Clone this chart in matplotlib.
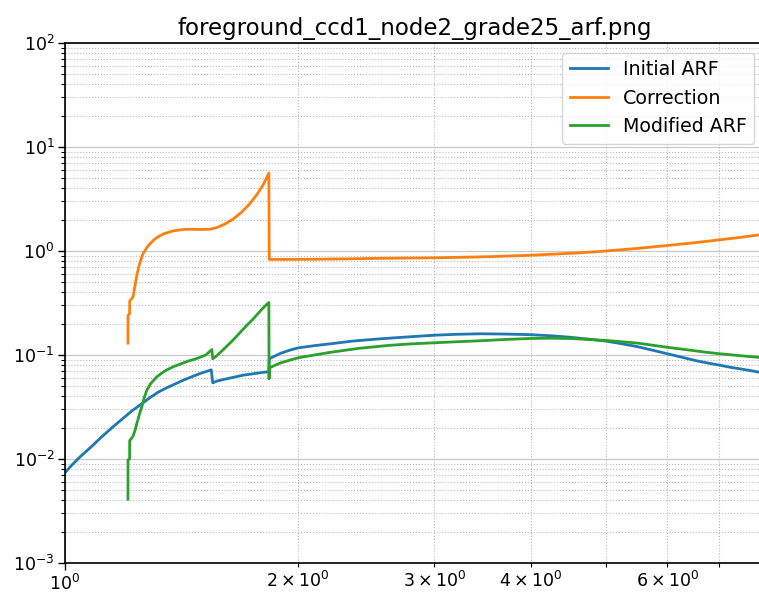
import numpy as np
import matplotlib
matplotlib.use("Agg")
import matplotlib.pyplot as plt

# energies (keV) and ARF values
energy_initial = [1.00, 1.02, 1.046, 1.08, 1.11, 1.15, 1.18, 1.22, 1.25, 1.288,
                  1.32, 1.35, 1.39, 1.42, 1.46, 1.50, 1.545, 1.552, 1.57, 1.60,
                  1.65, 1.70, 1.75, 1.80, 1.834, 1.836, 1.90, 1.95, 2.0, 2.1,
                  2.2, 2.35, 2.55, 2.8, 3.0, 3.2, 3.44, 3.7, 3.98, 4.25,
                  4.5, 4.75, 5.0, 5.25, 5.5, 5.93, 6.2, 6.5, 6.75, 7.0,
                  7.25, 7.5, 7.75, 8.0]
arf_initial = [0.0074, 0.0087, 0.0105, 0.013, 0.0158, 0.020, 0.0235, 0.029, 0.033, 0.039,
               0.044, 0.048, 0.053, 0.057, 0.062, 0.067, 0.072, 0.054, 0.056, 0.058,
               0.061, 0.064, 0.066, 0.068, 0.069, 0.092, 0.104, 0.111, 0.117, 0.123,
               0.128, 0.136, 0.143, 0.150, 0.155, 0.158, 0.160, 0.159, 0.157, 0.153,
               0.148, 0.142, 0.136, 0.128, 0.120, 0.105, 0.097, 0.089, 0.084, 0.080,
               0.076, 0.073, 0.070, 0.067]

energy_corr = [1.206, 1.2062, 1.212, 1.2122, 1.224, 1.232, 1.239, 1.25, 1.261, 1.28,
               1.30, 1.315, 1.34, 1.379, 1.42, 1.45, 1.50, 1.54, 1.571, 1.61,
               1.648, 1.69, 1.733, 1.77, 1.802, 1.834, 1.836, 2.0, 2.3, 2.55,
               3.0, 3.5, 4.0, 4.62, 5.0, 5.5, 6.0, 6.5, 7.0, 7.5, 8.0]
correction = [0.13, 0.24, 0.25, 0.33, 0.36, 0.47, 0.60, 0.78, 0.94, 1.12,
              1.26, 1.35, 1.46, 1.56, 1.61, 1.62, 1.61, 1.62, 1.68, 1.82,
              2.02, 2.35, 2.85, 3.5, 4.3, 5.6, 0.83, 0.83, 0.84, 0.85,
              0.86, 0.88, 0.91, 0.96, 1.00, 1.06, 1.13, 1.20, 1.28, 1.36, 1.45]

energy_mod = [1.206, 1.2062, 1.212, 1.2122, 1.224, 1.232, 1.239, 1.248, 1.257, 1.266,
              1.276, 1.29, 1.315, 1.345, 1.379, 1.41, 1.44, 1.47, 1.494, 1.52,
              1.548, 1.552, 1.57, 1.60, 1.65, 1.70, 1.75, 1.80, 1.834, 1.835,
              1.836, 1.87, 1.90, 1.95, 2.0, 2.1, 2.2, 2.4, 2.63, 2.8,
              3.0, 3.2, 3.44, 3.7, 3.98, 4.25, 4.5, 4.75, 5.0, 5.25,
              5.5, 5.93, 6.2, 6.5, 6.75, 7.0, 7.5, 8.0]
arf_mod = [0.0041, 0.0098, 0.0100, 0.015, 0.0165, 0.019, 0.0223, 0.027, 0.032, 0.039,
           0.046, 0.053, 0.062, 0.070, 0.077, 0.082, 0.087, 0.091, 0.095, 0.100,
           0.113, 0.092, 0.098, 0.112, 0.140, 0.178, 0.222, 0.280, 0.320, 0.059,
           0.075, 0.080, 0.084, 0.089, 0.094, 0.100, 0.106, 0.116, 0.124, 0.128,
           0.131, 0.134, 0.137, 0.141, 0.144, 0.145, 0.144, 0.141, 0.138, 0.134,
           0.130, 0.120, 0.115, 0.110, 0.106, 0.103, 0.098, 0.094]

title = "foreground_ccd1_node2_grade25_arf.png"

fig = plt.figure(figsize=(7.59, 5.92), dpi=100)
ax = fig.add_axes([65/759, 29/592, 699/759, 520/592])

ax.plot(energy_initial, arf_initial, color="#1f77b4", lw=2.0, label="Initial ARF")
ax.plot(energy_corr, correction, color="#ff7f0e", lw=2.0, label="Correction")
ax.plot(energy_mod, arf_mod, color="#2ca02c", lw=2.0, label="Modified ARF")

ax.set_xscale("log")
ax.set_yscale("log")
ax.set_xlim(1, 8)
ax.set_ylim(1e-3, 1e2)

ax.grid(True, which="major", color="#b0b0b0", lw=0.8, alpha=0.7)
ax.grid(True, which="minor", color="#b0b0b0", lw=0.8, ls=":", alpha=0.9)

for s in ax.spines.values():
    s.set_linewidth(1.2)
ax.tick_params(which="major", labelsize=12.5, length=5, width=1.0, pad=2.5)
ax.tick_params(which="minor", labelsize=12.5, length=3, width=0.8, pad=2.5)

ax.set_title(title, fontsize=16.5)
ax.legend(loc="upper right", fontsize=13.7)

fig.savefig("out.png", dpi=100)
